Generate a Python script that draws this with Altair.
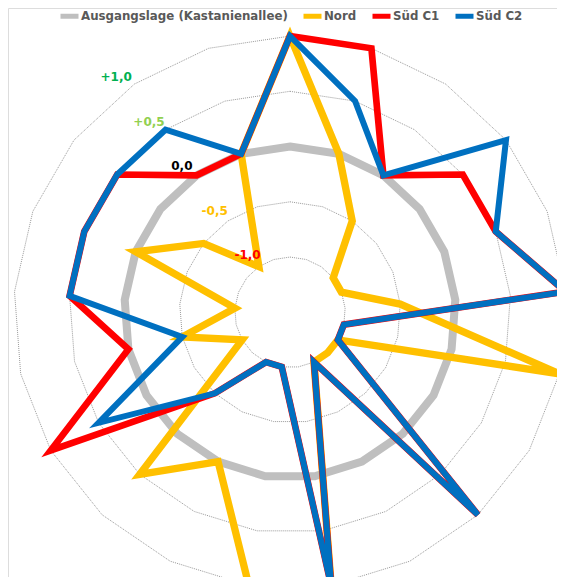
import altair as alt
import pandas as pd

# ---- data ----
categories = ["1", "2", "3", "4", "5", "6", "7", "8", "9", "10", "11",
              "12", "13", "14", "15", "16", "17", "18", "19", "20", "21"]
series_names = ["Ausgangslage (Kastanienallee)", "Nord", "Süd C1", "Süd C2"]
series_colors = ["#BFBFBF", "#FFC000", "#FF0000", "#0070C0"]
series_widths = [8, 6, 4.5, 3]

ausgangslage = [0.0, 0.0, 0.0, 0.0, 0.0, 0.0, 0.0, 0.0, 0.0, 0.0, 0.0,
                0.0, 0.0, 0.0, 0.0, 0.0, 0.0, 0.0, 0.0, 0.0, 0.0]
nord = [1.0, 0.0, -0.5, -1.0, -1.0, -0.5, 1.0, -1.0, -1.0, -1.0, 1.0,
        1.0, 0.0, 0.5, -1.0, -0.5, -1.0, 0.0, -0.5, -1.0, 0.0]
sued_c1 = [1.0, 1.0, 0.0, 0.5, 0.5, 1.0, -1.0, -1.0, 1.0, -1.0, 1.0,
           -1.0, -1.0, -0.5, 1.0, 0.0, 0.5, 0.5, 0.5, 0.0, 0.0]
sued_c2 = [1.0, 0.5, 0.0, 1.0, 0.5, 1.0, -1.0, -1.0, 1.0, -1.0, 1.0,
           -1.0, -1.0, -0.5, 0.5, -0.5, 0.5, 0.5, 0.5, 0.5, 0.0]

ring_levels = [-1.0, -0.5, 0.0, 0.5, 1.0]
axis_labels = ["+1,0", "+0,5", "0,0", "-0,5", "-1,0"]
axis_label_values = [1.0, 0.5, 0.0, -0.5, -1.0]
axis_label_colors = ["#00B050", "#92D050", "#000000", "#FFC000", "#FF0000"]

# ---- tables built from the lists ----
N = len(categories)
rows = []
for s, vals in zip(series_names, [ausgangslage, nord, sued_c1, sued_c2]):
    for k, (c, v) in enumerate(zip(categories, vals)):
        rows.append({"serie": s, "kategorie": c, "k": k, "wert": v})
df = pd.DataFrame(rows)

grid_rows = []
for lv in ring_levels:
    for k, c in enumerate(categories):
        grid_rows.append({"stufe": lv, "k": k, "wert": lv})
df_grid = pd.DataFrame(grid_rows)

df_lab = pd.DataFrame({"text": axis_labels, "wert": axis_label_values,
                       "farbe": axis_label_colors})

# scale geometry (radius unit = 1 value step, axis minimum -1.5 at centre)
PX = 110.5
W, H = 549, 569
CX, CY = 282, 304.3
xdom = [-CX / PX, (W - CX) / PX]
ydom = [(CY - H) / PX, CY / PX]

xenc = alt.X("px:Q", scale=alt.Scale(domain=xdom, nice=False, zero=False), axis=None)
yenc = alt.Y("py:Q", scale=alt.Scale(domain=ydom, nice=False, zero=False), axis=None)

polar = dict(
    ang=f"datum.k * 2 * PI / {N}",
    rr="datum.wert + 1.5",
)
xy = dict(px="datum.rr * sin(datum.ang)", py="datum.rr * cos(datum.ang)")

grid = alt.Chart(df_grid).transform_calculate(**polar).transform_calculate(**xy).mark_line(
    interpolate="linear-closed", stroke="#7F7F7F", strokeWidth=0.8, strokeDash=[1, 1]
).encode(x=xenc, y=yenc, detail="stufe:N", order=alt.Order("k:Q"))

lines = alt.Chart(df).transform_calculate(**polar).transform_calculate(**xy).mark_line(
    interpolate="linear-closed", strokeJoin="miter"
).encode(
    x=xenc, y=yenc,
    color=alt.Color(
        "serie:N",
        scale=alt.Scale(domain=series_names, range=series_colors),
        legend=alt.Legend(
            title=None, orient="none", legendX=50, legendY=-3.5,
            direction="horizontal", symbolType="stroke", symbolSize=324,
            symbolStrokeWidth=5, labelFont="DejaVu Sans", labelFontWeight="bold",
            labelFontSize=11.8, labelColor="#595959", columnPadding=5,
            labelOffset=0, padding=0, labelLimit=400,
        ),
    ),
    strokeWidth=alt.StrokeWidth(
        "serie:N", scale=alt.Scale(domain=series_names, range=series_widths), legend=None
    ),
    order=alt.Order("k:Q"),
)

labels = alt.Chart(df_lab).transform_calculate(
    ang="-36.5 * PI / 180", rr="datum.wert + 1.5 + 0.145"
).transform_calculate(**xy).mark_text(
    font="DejaVu Sans", fontWeight="bold", fontSize=12, align="center", baseline="middle"
).encode(x=xenc, y=yenc, text="text:N", color=alt.Color("farbe:N", scale=None))

chart = alt.layer(grid, lines, labels).resolve_scale(color="independent").properties(
    width=W, height=H, padding=0, autosize=alt.AutoSizeParams(type="none")
).configure_view(stroke=None).configure(background="white")

chart.save("out.html", embed_options={"renderer": "svg", "actions": False})
